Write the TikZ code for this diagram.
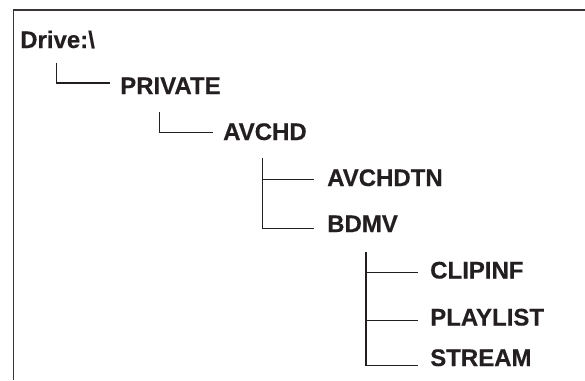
\documentclass[tikz,border=0pt]{standalone}
\usepackage{fontspec}
\setmainfont{Liberation Sans}
\newfontface\heavyface{Liberation Sans Bold}[FakeBold=0.4]
\usetikzlibrary{calc}
\definecolor{ink}{HTML}{231F20}
\begin{document}
\begin{tikzpicture}[x=1pt,y=-1pt,
  folder/.style={anchor=base west,inner sep=0pt,text=ink,font=\fontsize{24}{28}\heavyface},
  branch/.style={draw=ink,line width=1.4pt},
  frame/.style={draw=ink!90,line width=1.8pt}]
\useasboundingbox (0,0) rectangle (585,380);
\coordinate (ftl) at (13.5,10);
\coordinate (ftr) at (585,10);
\coordinate (fbl) at (13.5,380);
\draw[frame] (ftr) -- (ftl) -- (fbl);

\node[folder] (drive)    at (20,48)    {Drive:\textbackslash};
\node[folder] (private)  at (120,94)   {PRIVATE};
\node[folder] (avchd)    at (223,140)  {AVCHD};
\node[folder] (avchdtn)  at (327,186)  {AVCHDTN};
\node[folder] (bdmv)     at (327,232)  {BDMV};
\node[folder] (clipinf)  at (430,278.5){CLIPINF};
\node[folder] (playlist) at (430,325.5){PLAYLIST};
\node[folder] (stream)   at (430,366)  {STREAM};

% Drive -> PRIVATE
\draw[branch] ($(drive.base west)+(36.7,14.7)$) |- ($(private.base west)+(-10,-11)$);
% PRIVATE -> AVCHD
\draw[branch] ($(private.base west)+(39.3,17.7)$) |- ($(avchd.base west)+(-10.3,-7.3)$);
% AVCHD -> AVCHDTN, BDMV
\draw[branch] ($(avchd.base west)+(39.3,18.3)$) |- ($(bdmv.base west)+(-13,-3.7)$);
\draw[branch] ($(avchd.base west)+(39.3,39.3)$) -- ($(avchdtn.base west)+(-13,-6.7)$);
% BDMV -> CLIPINF, PLAYLIST, STREAM
\draw[branch] ($(bdmv.base west)+(39,19.7)$) |- ($(stream.base west)+(-11.7,-0.3)$);
\draw[branch] ($(bdmv.base west)+(39,40.3)$) -- ($(clipinf.base west)+(-11.7,-6.2)$);
\draw[branch] ($(bdmv.base west)+(39,88.7)$) -- ($(playlist.base west)+(-11.7,-4.8)$);
\end{tikzpicture}
\end{document}
